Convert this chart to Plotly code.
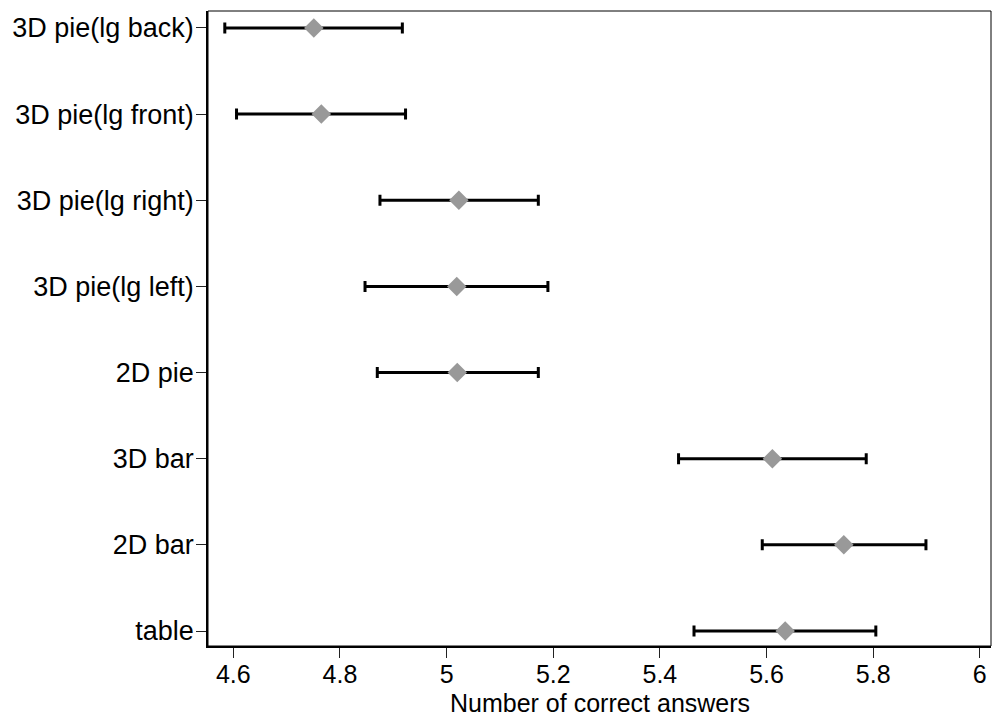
import plotly.graph_objects as go

# Categories from top to bottom as shown
categories = ["3D pie(lg back)", "3D pie(lg front)", "3D pie(lg right)", "3D pie(lg left)",
              "2D pie", "3D bar", "2D bar", "table"]
means = [4.751, 4.765, 5.023, 5.019, 5.020, 5.611, 5.745, 5.635]
lower = [4.584, 4.606, 4.875, 4.847, 4.870, 5.435, 5.592, 5.464]
upper = [4.917, 4.923, 5.172, 5.190, 5.172, 5.787, 5.899, 5.805]

x_ticks = [4.6, 4.8, 5.0, 5.2, 5.4, 5.6, 5.8, 6.0]
x_tick_labels = ["4.6", "4.8", "5", "5.2", "5.4", "5.6", "5.8", "6"]

err_plus = [u - m for u, m in zip(upper, means)]
err_minus = [m - l for m, l in zip(means, lower)]

fig = go.Figure()
fig.add_trace(go.Scatter(
    x=means, y=categories, mode="markers",
    marker=dict(symbol="diamond", size=15, color="#999999", line=dict(width=0)),
    error_x=dict(type="data", symmetric=False, array=err_plus, arrayminus=err_minus,
                 color="black", thickness=3, width=5.5),
    showlegend=False, cliponaxis=False,
))

font_family = "Liberation Sans, Arial, sans-serif"
fig.update_layout(
    width=993, height=718,
    margin=dict(l=208, r=2, t=11, b=72),
    paper_bgcolor="white", plot_bgcolor="white",
    font=dict(family=font_family, size=27, color="black"),
    xaxis=dict(range=[4.5525, 6.021], tickvals=x_ticks, ticktext=x_tick_labels,
               ticks="outside", ticklen=10, tickwidth=1, tickcolor="#222",
               showline=True, linecolor="black", linewidth=2,
               showgrid=False, zeroline=False, ticklabelstandoff=-5,
               tickfont=dict(size=25)),
    yaxis=dict(type="category", categoryorder="array",
               categoryarray=list(reversed(categories)),
               range=[-0.174, 7.197],
               ticks="outside", ticklen=10, tickwidth=1, tickcolor="#222",
               showline=True, linecolor="black", linewidth=1.5,
               showgrid=False, zeroline=False, ticklabelstandoff=-3),
    shapes=[dict(type="rect", xref="paper", yref="paper", x0=0, x1=1, y0=0, y1=1,
                 line=dict(color="black", width=1), fillcolor="rgba(0,0,0,0)", layer="above")],
    annotations=[dict(text="Number of correct answers", xref="paper", yref="paper",
                      x=0.5, y=-0.0895, xanchor="center", yanchor="middle",
                      showarrow=False, font=dict(size=25))],
)

fig.write_html("out.html")
